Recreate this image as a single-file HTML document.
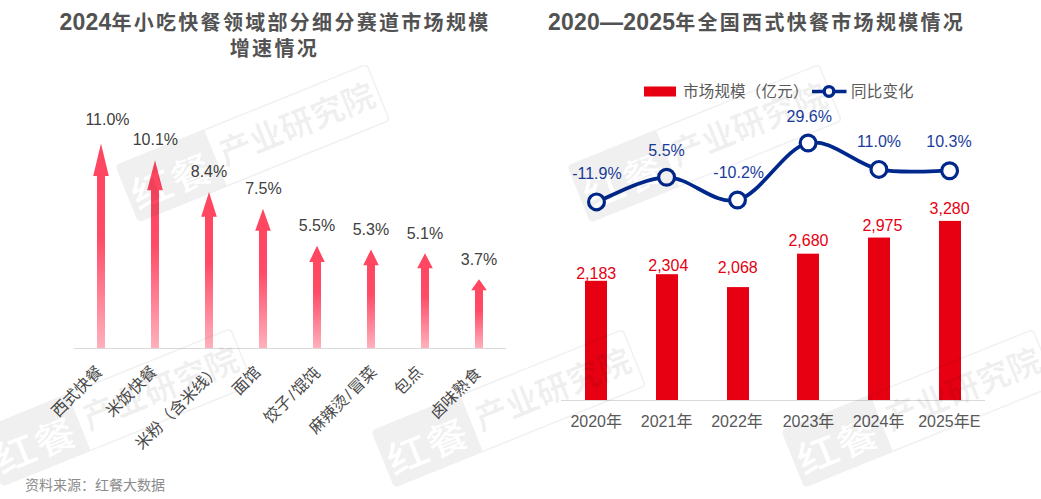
<!DOCTYPE html>
<html><head><meta charset="utf-8"><style>
html,body{margin:0;padding:0;background:#fff;}
svg{display:block;}
.t{font-family:"Liberation Sans","Noto Sans CJK SC",sans-serif;}
.c{font-family:"Liberation Sans","Noto Sans CJK SC",sans-serif;}
</style></head><body>
<svg width="1041" height="499" viewBox="0 0 1041 499">
<defs>
<linearGradient id="ag" x1="0" y1="0" x2="0" y2="1">
<stop offset="0" stop-color="#ff4560"/>
<stop offset="0.45" stop-color="#ff4a66"/>
<stop offset="1" stop-color="#ffb0bc"/>
</linearGradient>
</defs>
<rect width="1041" height="499" fill="#fff"/>

<g font-family="'Liberation Sans','Noto Sans CJK SC',sans-serif" font-weight="700" fill="#525252" text-anchor="middle">
<text x="275" y="29.7" font-size="20" letter-spacing="2.3"><tspan font-size="23" letter-spacing="0.2">2024</tspan>年小吃快餐领域部分细分赛道市场规模</text>
<text x="274.4" y="56.3" font-size="20" letter-spacing="2.3">增速情况</text>
<text x="756.6" y="29.7" font-size="20" letter-spacing="2.3"><tspan font-size="23" letter-spacing="0.2">2020—2025</tspan>年全国西式快餐市场规模情况</text>
</g>
<rect x="74" y="348" width="432" height="1" fill="#d9d9d9"/>
<path d="M101,143.62 L108.8,176.12 L105,176.12 L105,348 L97,348 L97,176.12 L93.2,176.12 Z" fill="url(#ag)"/>
<path d="M155,160.34 L162.8,190.18 L159,190.18 L159,348 L151,348 L151,190.18 L147.2,190.18 Z" fill="url(#ag)"/>
<path d="M209,191.93 L216.8,216.74 L213,216.74 L213,348 L205,348 L205,216.74 L201.2,216.74 Z" fill="url(#ag)"/>
<path d="M263,208.65 L270.8,230.81 L267,230.81 L267,348 L259,348 L259,230.81 L255.2,230.81 Z" fill="url(#ag)"/>
<path d="M317,245.81 L324.8,262.06 L321,262.06 L321,348 L313,348 L313,262.06 L309.2,262.06 Z" fill="url(#ag)"/>
<path d="M371,249.53 L378.8,265.18 L375,265.18 L375,348 L367,348 L367,265.18 L363.2,265.18 Z" fill="url(#ag)"/>
<path d="M425,253.24 L432.8,268.31 L429,268.31 L429,348 L421,348 L421,268.31 L417.2,268.31 Z" fill="url(#ag)"/>
<path d="M479,279.25 L486.8,290.18 L483,290.18 L483,348 L475,348 L475,290.18 L471.2,290.18 Z" fill="url(#ag)"/>
<g font-family="'Liberation Sans','Noto Sans CJK SC',sans-serif" font-size="16" fill="#404040" text-anchor="middle">
<text x="107.5" y="124.5">11.0%</text>
<text x="155.4" y="145.0">10.1%</text>
<text x="209" y="176.7">8.4%</text>
<text x="263.4" y="193.6">7.5%</text>
<text x="317" y="230.9">5.5%</text>
<text x="370.9" y="234.8">5.3%</text>
<text x="424.9" y="238.5">5.1%</text>
<text x="479" y="264.8">3.7%</text>
</g>
<g font-family="'Liberation Sans','Noto Sans CJK SC',sans-serif" font-size="16" fill="#4a4a4a" text-anchor="end">
<text transform="translate(103.5,372.7) rotate(-45)">西式快餐</text>
<text transform="translate(157.8,372.7) rotate(-45)">米饭快餐</text>
<text transform="translate(221.2,371.4) rotate(-45)">米粉（含米线）</text>
<text transform="translate(261.6,373.3) rotate(-45)">面馆</text>
<text transform="translate(321.1,373.9) rotate(-45)">饺子<tspan dx="1.5">/</tspan><tspan dx="1.5">馄饨</tspan></text>
<text transform="translate(377.7,373.0) rotate(-45)">麻辣烫<tspan dx="1.5">/</tspan><tspan dx="1.5">冒菜</tspan></text>
<text transform="translate(423.6,373.0) rotate(-45)">包点</text>
<text transform="translate(482.0,374.5) rotate(-45)">卤味熟食</text>
</g>
<text x="25" y="490" font-family="'Liberation Sans','Noto Sans CJK SC',sans-serif" font-size="14" fill="#8c8c8c">资料来源：红餐大数据</text>
<rect x="561" y="400" width="424" height="1" fill="#d9d9d9"/>
<rect x="585" y="280.81" width="22" height="119.19" fill="#e60012"/>
<rect x="656" y="274.20" width="22" height="125.80" fill="#e60012"/>
<rect x="727" y="287.09" width="22" height="112.91" fill="#e60012"/>
<rect x="797" y="253.67" width="22" height="146.33" fill="#e60012"/>
<rect x="868" y="237.56" width="22" height="162.44" fill="#e60012"/>
<rect x="939" y="220.91" width="22" height="179.09" fill="#e60012"/>
<g font-family="'Liberation Sans','Noto Sans CJK SC',sans-serif" font-size="16" fill="#e60012" text-anchor="middle">
<text x="596.2" y="278.5">2,183</text>
<text x="668.3" y="271.4">2,304</text>
<text x="737.7" y="273.4">2,068</text>
<text x="808.5" y="246.1">2,680</text>
<text x="882.4" y="230.9">2,975</text>
<text x="949.6" y="213.9">3,280</text>
</g>
<g font-family="'Liberation Sans','Noto Sans CJK SC',sans-serif" font-size="16" fill="#595959" text-anchor="middle">
<text x="596.2" y="426.5">2020年</text>
<text x="666.6" y="426.5">2021年</text>
<text x="737" y="426.5">2022年</text>
<text x="808.5" y="426.5">2023年</text>
<text x="878.6" y="426.5">2024年</text>
<text x="949.3" y="426.5">2025年E</text>
</g>
<path d="M596.5,201.9 C608.18,197.80 643.10,177.62 666.6,177.3 C690.10,176.98 713.92,205.72 737.5,200 C761.08,194.28 784.53,148.10 808.1,143 C831.67,137.90 855.32,164.78 878.9,169.4 C902.48,174.02 937.82,170.48 949.6,170.7" fill="none" stroke="#00288c" stroke-width="3.75" stroke-linecap="round"/>
<circle cx="596.5" cy="201.9" r="7.9" fill="#fff" stroke="#00288c" stroke-width="3.2"/>
<circle cx="666.6" cy="177.3" r="7.9" fill="#fff" stroke="#00288c" stroke-width="3.2"/>
<circle cx="737.5" cy="200" r="7.9" fill="#fff" stroke="#00288c" stroke-width="3.2"/>
<circle cx="808.1" cy="143" r="7.9" fill="#fff" stroke="#00288c" stroke-width="3.2"/>
<circle cx="878.9" cy="169.4" r="7.9" fill="#fff" stroke="#00288c" stroke-width="3.2"/>
<circle cx="949.6" cy="170.7" r="7.9" fill="#fff" stroke="#00288c" stroke-width="3.2"/>
<g font-family="'Liberation Sans','Noto Sans CJK SC',sans-serif" font-size="16" fill="#1a3c9c" text-anchor="middle">
<text x="596.9" y="178.8">-11.9%</text>
<text x="666.6" y="156">5.5%</text>
<text x="738.7" y="178">-10.2%</text>
<text x="809.3" y="122">29.6%</text>
<text x="879" y="147">11.0%</text>
<text x="949" y="147">10.3%</text>
</g>
<rect x="644" y="86.5" width="32" height="10" fill="#e60012"/>
<text x="683" y="97" font-family="'Liberation Sans','Noto Sans CJK SC',sans-serif" font-size="15.5" letter-spacing="0.2" fill="#595959">市场规模（亿元）</text>
<line x1="812" y1="91.4" x2="846.5" y2="91.4" stroke="#00288c" stroke-width="3.5"/>
<circle cx="829" cy="91.4" r="4.8" fill="#fff" stroke="#00288c" stroke-width="3.4"/>
<text x="851" y="97" font-family="'Liberation Sans','Noto Sans CJK SC',sans-serif" font-size="15.5" letter-spacing="0.2" fill="#595959">同比变化</text>
<defs><mask id="wmk" maskUnits="userSpaceOnUse" x="-20" y="-20" width="320" height="100"><rect x="-20" y="-20" width="320" height="100" fill="#fff"/><text transform="translate(47,50) scale(1.12,1)" font-family="'Liberation Sans','Noto Sans CJK SC',sans-serif" font-weight="500" font-size="37" letter-spacing="1" text-anchor="middle" fill="#000">红餐</text></mask></defs>
<g transform="translate(115,165.2) rotate(-22)">
<path d="M5,0 H96 V62 H5 Q0,62 0,57 V5 Q0,0 5,0 Z" fill="#000" fill-opacity="0.06" mask="url(#wmk)"/>
<path d="M96,0.75 H267 Q271.25,0.75 271.25,5 V57 Q271.25,61.25 267,61.25 H96" fill="none" stroke="#000" stroke-opacity="0.06" stroke-width="1.5"/>
<text x="184" y="42" font-family="'Liberation Sans','Noto Sans CJK SC',sans-serif" font-weight="700" font-size="33" text-anchor="middle" fill="#000" fill-opacity="0.06">产业研究院</text>
</g>
<g transform="translate(-21.3,429.5) rotate(-22)">
<path d="M5,0 H96 V62 H5 Q0,62 0,57 V5 Q0,0 5,0 Z" fill="#000" fill-opacity="0.06" mask="url(#wmk)"/>
<path d="M96,0.75 H267 Q271.25,0.75 271.25,5 V57 Q271.25,61.25 267,61.25 H96" fill="none" stroke="#000" stroke-opacity="0.06" stroke-width="1.5"/>
<text x="184" y="42" font-family="'Liberation Sans','Noto Sans CJK SC',sans-serif" font-weight="700" font-size="33" text-anchor="middle" fill="#000" fill-opacity="0.06">产业研究院</text>
</g>
<g transform="translate(371,430.5) rotate(-22)">
<path d="M5,0 H96 V62 H5 Q0,62 0,57 V5 Q0,0 5,0 Z" fill="#000" fill-opacity="0.06" mask="url(#wmk)"/>
<path d="M96,0.75 H267 Q271.25,0.75 271.25,5 V57 Q271.25,61.25 267,61.25 H96" fill="none" stroke="#000" stroke-opacity="0.06" stroke-width="1.5"/>
<text x="184" y="42" font-family="'Liberation Sans','Noto Sans CJK SC',sans-serif" font-weight="700" font-size="33" text-anchor="middle" fill="#000" fill-opacity="0.06">产业研究院</text>
</g>
<g transform="translate(567,165.5) rotate(-22)">
<path d="M5,0 H96 V62 H5 Q0,62 0,57 V5 Q0,0 5,0 Z" fill="#000" fill-opacity="0.06" mask="url(#wmk)"/>
<path d="M96,0.75 H267 Q271.25,0.75 271.25,5 V57 Q271.25,61.25 267,61.25 H96" fill="none" stroke="#000" stroke-opacity="0.06" stroke-width="1.5"/>
<text x="184" y="42" font-family="'Liberation Sans','Noto Sans CJK SC',sans-serif" font-weight="700" font-size="33" text-anchor="middle" fill="#000" fill-opacity="0.06">产业研究院</text>
</g>
<g transform="translate(781,430.4) rotate(-22)">
<path d="M5,0 H96 V62 H5 Q0,62 0,57 V5 Q0,0 5,0 Z" fill="#000" fill-opacity="0.06" mask="url(#wmk)"/>
<path d="M96,0.75 H267 Q271.25,0.75 271.25,5 V57 Q271.25,61.25 267,61.25 H96" fill="none" stroke="#000" stroke-opacity="0.06" stroke-width="1.5"/>
<text x="184" y="42" font-family="'Liberation Sans','Noto Sans CJK SC',sans-serif" font-weight="700" font-size="33" text-anchor="middle" fill="#000" fill-opacity="0.06">产业研究院</text>
</g>
</svg></body></html>
